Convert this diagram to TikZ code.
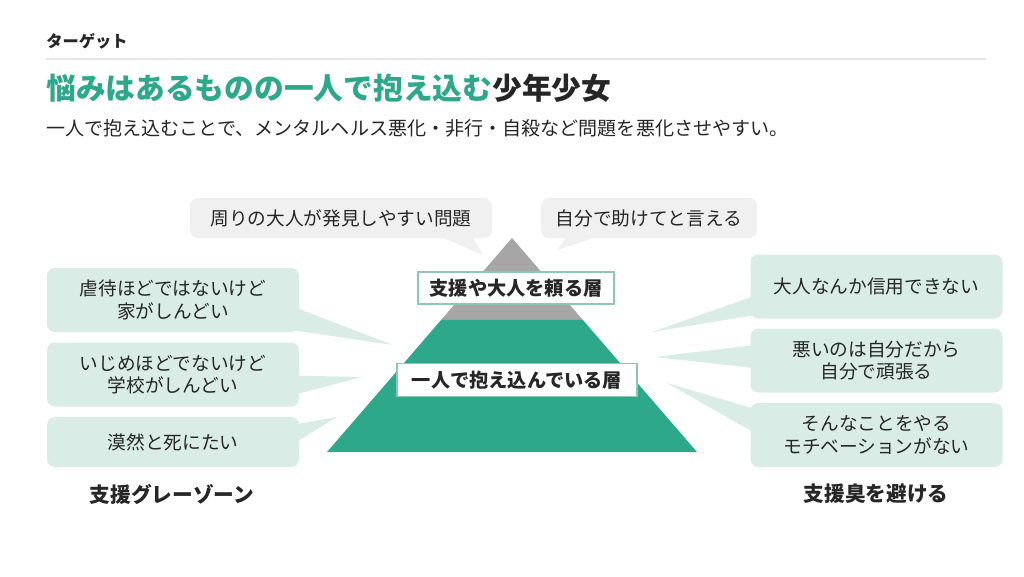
\documentclass[tikz,border=0pt]{standalone}
\usepackage{fontspec}
\setmainfont{Noto Sans CJK JP}
\usetikzlibrary{calc}
\definecolor{teal green}{HTML}{2EA88A}
\definecolor{pale green}{HTML}{D9EDE6}
\definecolor{pale gray}{HTML}{F0F0F0}
\definecolor{layer gray}{HTML}{A6A6A6}
\definecolor{frame green}{HTML}{8CC6B6}
\definecolor{ink}{HTML}{262626}
\begin{document}
\begin{tikzpicture}[x=0.75pt,y=-0.75pt,
                    text=ink,
                    side node/.style={fill=pale green,rounded corners=6pt,minimum width=189pt,minimum height=48pt,align=center,font=\fontsize{14}{17}\selectfont,inner sep=0pt},
                    top node/.style={fill=pale gray,rounded corners=6pt,minimum height=30pt,font=\fontsize{14}{17}\selectfont,inner sep=0pt},
                    layer node/.style={draw=frame green,line width=0.8pt,fill=white,font=\bfseries\fontsize{14.4}{17}\selectfont,inner sep=0pt},
                    group node/.style={font=\bfseries\fontsize{15.5}{18}\selectfont,inner sep=0pt}]

  \useasboundingbox[fill=white] (0,0) rectangle (1024,576);

  % header
  \node[anchor=west,inner sep=0pt,font=\bfseries\fontsize{12.2}{14}\selectfont] (kicker) at (46,41) {ターゲット};
  \coordinate (rule l) at (46,59);
  \coordinate (rule r) at (986,59);
  \draw[black!10,line width=0.8pt] (rule l) -- (rule r);
  \node[anchor=west,inner sep=0pt,font=\bfseries\fontsize{22.3}{26}\selectfont] (title) at (46,88) {\textcolor{teal green}{悩みはあるものの一人で抱え込む}少年少女};
  \node[anchor=west,inner sep=0pt,font=\fontsize{14.3}{17}\selectfont] (lead) at (46,128) {一人で抱え込むことで、メンタルヘルス悪化・非行・自殺など問題を悪化させやすい。};

  % pyramid
  \coordinate (apex) at (512,238);
  \coordinate (base l) at (327,452);
  \coordinate (base r) at (697,452);
  \coordinate (cut l) at ($(apex)!0.383!(base l)$);
  \coordinate (cut r) at ($(apex)!0.383!(base r)$);
  \fill[layer gray] (apex) -- (cut l) -- (cut r) -- cycle;
  \fill[teal green] (cut l) -- (base l) -- (base r) -- (cut r) -- cycle;

  \node[layer node,minimum width=147pt,minimum height=24pt] (upper) at (516,288) {支援や大人を頼る層};
  \node[layer node,minimum width=180pt,minimum height=25pt] (lower) at (517,380) {一人で抱え込んでいる層};

  % top callouts
  \node[top node,minimum width=226.5pt] (found) at (341,218) {周りの大人が発見しやすい問題};
  \node[top node,minimum width=162pt] (ask) at (649,218) {自分で助けてと言える};
  \coordinate (found tip) at (483,255);
  \coordinate (ask tip) at (557,250);
  \fill[pale gray] ($(found.south)+(89,-6)$) -- (found tip) -- ($(found.south)+(129,-6)$) -- cycle;
  \fill[pale gray] ($(ask.south)+(-79,-6)$) -- (ask tip) -- ($(ask.south)+(-39,-6)$) -- cycle;

  % left callouts
  \node[side node] (home) at (173,300) {虐待ほどではないけど\\家がしんどい};
  \node[side node] (school) at (173,374.5) {いじめほどでないけど\\学校がしんどい};
  \node[side node,minimum height=37.5pt] (vague) at (173,442) {漠然と死にたい};
  \coordinate (home tip) at (393,345);
  \coordinate (school tip) at (362,377);
  \coordinate (vague tip) at (337,417);
  \fill[pale green] ($(home.east)+(-8,6)$) -- (home tip) -- ($(home.east)+(-8,30)$) -- cycle;
  \fill[pale green] ($(school.east)+(-8,1)$) -- (school tip) -- ($(school.east)+(-8,21)$) -- cycle;
  \fill[pale green] ($(vague.east)+(-8,-17)$) -- (vague tip) -- ($(vague.east)+(-8,3)$) -- cycle;
  \node[group node] (gray zone) at (172,494) {支援グレーゾーン};

  % right callouts
  \node[side node] (trust) at (876.5,286.5) {大人なんか信用できない};
  \node[side node] (alone) at (876.5,360.5) {悪いのは自分だから\\自分で頑張る};
  \node[side node] (motive) at (876.5,435) {そんなことをやる\\モチベーションがない};
  \coordinate (trust tip) at (652,332);
  \coordinate (alone tip) at (655,357);
  \coordinate (motive tip) at (667,383);
  \fill[pale green] ($(trust.west)+(8,8)$) -- (trust tip) -- ($(trust.west)+(8,28)$) -- cycle;
  \fill[pale green] ($(alone.west)+(8,-16)$) -- (alone tip) -- ($(alone.west)+(8,8)$) -- cycle;
  \fill[pale green] ($(motive.west)+(8,-25)$) -- (motive tip) -- ($(motive.west)+(8,0)$) -- cycle;
  \node[group node] (avoid) at (876,494) {支援臭を避ける};

\end{tikzpicture}
\end{document}
